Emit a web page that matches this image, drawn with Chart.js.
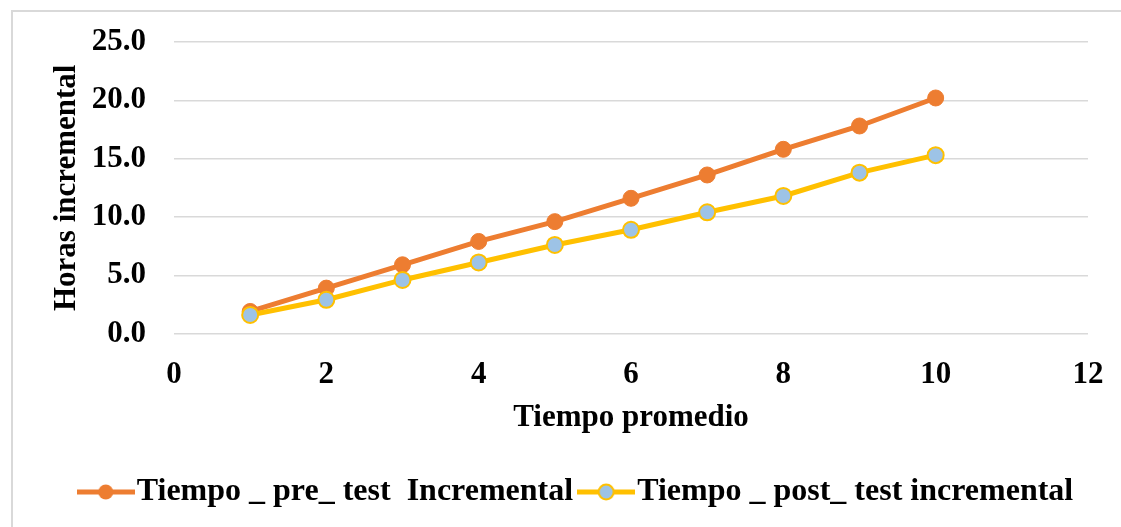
<!DOCTYPE html>
<html>
<head>
<meta charset="utf-8">
<script src="https://cdn.jsdelivr.net/npm/chart.js@4/dist/chart.umd.min.js"></script>
<style>
  html, body { margin: 0; padding: 0; background: #fff; }
  #wrap { position: relative; width: 1121px; height: 527px; overflow: hidden; }
  #frame { position: absolute; left: 11px; top: 10px; width: 1200px; height: 600px; border: 2px solid #d9d9d9; }
  canvas { position: absolute; left: 0; top: 0; }
</style>
</head>
<body>
<div id="wrap">
  <div id="frame"></div>
  <canvas id="chart" width="1121" height="527"></canvas>
</div>
<script>
'use strict';

const xValues = [1, 2, 3, 4, 5, 6, 7, 8, 9, 10];
const preTest = [1.9, 3.9, 5.9, 7.9, 9.6, 11.6, 13.6, 15.8, 17.8, 20.2];
const postTest = [1.6, 2.9, 4.6, 6.1, 7.6, 8.9, 10.4, 11.8, 13.8, 15.3];
const seriesNames = ['Tiempo _ pre_ test  Incremental', 'Tiempo _ post_ test incremental'];
const xTitle = 'Tiempo promedio';
const yTitle = 'Horas incremental';

const ORANGE = '#ED7D31';
const YELLOW = '#FFC000';
const BLUE = '#9DC3E6';
const FONT = 'Liberation Serif, Times New Roman, serif';

function legendIcon(lineColor, fill, stroke) {
  const c = document.createElement('canvas');
  c.width = 58; c.height = 20;
  const ctx = c.getContext('2d');
  ctx.strokeStyle = lineColor;
  ctx.lineWidth = 5;
  ctx.beginPath(); ctx.moveTo(0, 10); ctx.lineTo(58, 10); ctx.stroke();
  ctx.beginPath(); ctx.arc(29, 10, 7.5, 0, Math.PI * 2);
  ctx.fillStyle = fill; ctx.fill();
  if (stroke) { ctx.lineWidth = 2; ctx.strokeStyle = stroke; ctx.stroke(); }
  return c;
}
const icons = [legendIcon(ORANGE, ORANGE, null), legendIcon(YELLOW, BLUE, YELLOW)];

const toPts = arr => xValues.map((x, i) => ({ x, y: arr[i] }));

// the legend row sits a bit right of centre in the original
const legendShift = {
  id: 'legendShift',
  afterLayout(chart) {
    if (chart.legend) { chart.legend.left += 14; chart.legend.right += 14; }
  }
};

new Chart(document.getElementById('chart').getContext('2d'), {
  type: 'line',
  data: {
    datasets: [
      {
        label: seriesNames[0],
        data: toPts(preTest),
        borderColor: ORANGE, backgroundColor: ORANGE,
        borderWidth: 5, tension: 0,
        pointRadius: 8, pointBackgroundColor: ORANGE, pointBorderColor: ORANGE, pointBorderWidth: 1,
        order: 2
      },
      {
        label: seriesNames[1],
        data: toPts(postTest),
        borderColor: YELLOW, backgroundColor: BLUE,
        borderWidth: 5, tension: 0,
        pointRadius: 8, pointBackgroundColor: BLUE, pointBorderColor: YELLOW, pointBorderWidth: 2,
        order: 1
      }
    ]
  },
  plugins: [legendShift],
  options: {
    responsive: false,
    animation: false,
    layout: { padding: { left: 48, right: 33, top: 42, bottom: 9 } },
    plugins: {
      tooltip: { enabled: false },
      legend: {
        position: 'bottom',
        labels: {
          usePointStyle: true,
          pointStyleWidth: 30,
          padding: 18,
          color: '#000',
          font: { family: FONT, size: 32, weight: 'bold' },
          sort: (a, b) => a.datasetIndex - b.datasetIndex,
          generateLabels: chart => {
            const items = Chart.defaults.plugins.legend.labels.generateLabels(chart);
            items.forEach(it => { it.pointStyle = icons[it.datasetIndex]; });
            return items;
          }
        }
      }
    },
    scales: {
      x: {
        type: 'linear',
        min: 0, max: 12,
        afterFit: s => { s.paddingLeft = 0; s.paddingRight = 0; },
        ticks: { stepSize: 2, color: '#000', padding: 23, font: { family: FONT, size: 31, weight: 'bold' } },
        grid: { display: false, drawTicks: false },
        border: { display: false },
        title: { display: true, text: xTitle, color: '#000', padding: { top: -17, bottom: 21 }, font: { family: FONT, size: 31, weight: 'bold' } }
      },
      y: {
        min: 0, max: 25,
        afterFit: s => { s.width = 126; s.paddingTop = 0; s.paddingBottom = 0; },
        ticks: { stepSize: 5, color: '#000', padding: 28, callback: v => v.toFixed(1), font: { family: FONT, size: 31, weight: 'bold' } },
        grid: { color: '#d9d9d9', lineWidth: 1.5, drawTicks: false },
        border: { display: false },
        title: { display: true, text: yTitle, color: '#000', padding: { top: 0, bottom: 0 }, font: { family: FONT, size: 31, weight: 'bold' } }
      }
    }
  }
});
</script>
</body>
</html>
